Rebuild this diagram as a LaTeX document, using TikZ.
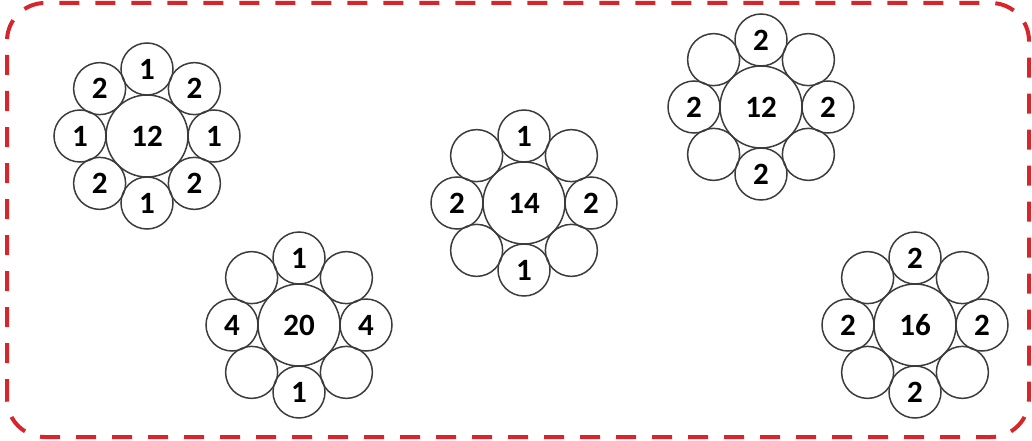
\documentclass[tikz,border=0pt]{standalone}
\usepackage{fontspec}
\setmainfont{Carlito}
\definecolor{borderred}{RGB}{214,38,44}
\definecolor{ringgray}{RGB}{60,60,60}
\tikzset{
 hub/.style={circle,draw=ringgray,line width=0.75pt,minimum size=41pt,inner sep=0pt,font=\bfseries\fontsize{15.5}{16}\selectfont},
 petal/.style={circle,draw=ringgray,line width=0.75pt,minimum size=26pt,inner sep=0pt,font=\bfseries\fontsize{15.5}{16}\selectfont}
}

\begin{document}
\begin{tikzpicture}[x=0.5pt,y=0.5pt]
 \useasboundingbox (0,0) rectangle (1032,440);
 \draw[borderred,line width=2pt,dash pattern=on 10pt off 8pt,rounded corners=19pt]
 (7,3) rectangle (1029,437);
 % left, 12
 \node[hub] (a) at (147,304) {12};
 \path (a.center)
 +(  0:67) node[petal] (a0)   {1}
 +( 45:67) node[petal] (a45)  {2}
 +( 90:67) node[petal] (a90)  {1}
 +(135:67) node[petal] (a135) {2}
 +(180:67) node[petal] (a180) {1}
 +(225:67) node[petal] (a225) {2}
 +(270:67) node[petal] (a270) {1}
 +(315:67) node[petal] (a315) {2}
 ;
 % bottom left, 20
 \node[hub] (b) at (299,115) {20};
 \path (b.center)
 +(  0:67) node[petal] (b0)   {4}
 +( 45:67) node[petal] (b45)  {}
 +( 90:67) node[petal] (b90)  {1}
 +(135:67) node[petal] (b135) {}
 +(180:67) node[petal] (b180) {4}
 +(225:67) node[petal] (b225) {}
 +(270:67) node[petal] (b270) {1}
 +(315:67) node[petal] (b315) {}
 ;
 % middle, 14
 \node[hub] (c) at (524,237) {14};
 \path (c.center)
 +(  0:67) node[petal] (c0)   {2}
 +( 45:67) node[petal] (c45)  {}
 +( 90:67) node[petal] (c90)  {1}
 +(135:67) node[petal] (c135) {}
 +(180:67) node[petal] (c180) {2}
 +(225:67) node[petal] (c225) {}
 +(270:67) node[petal] (c270) {1}
 +(315:67) node[petal] (c315) {}
 ;
 % top right, 12
 \node[hub] (d) at (761,333) {12};
 \path (d.center)
 +(  0:67) node[petal] (d0)   {2}
 +( 45:67) node[petal] (d45)  {}
 +( 90:67) node[petal] (d90)  {2}
 +(135:67) node[petal] (d135) {}
 +(180:67) node[petal] (d180) {2}
 +(225:67) node[petal] (d225) {}
 +(270:67) node[petal] (d270) {2}
 +(315:67) node[petal] (d315) {}
 ;
 % bottom right, 16
 \node[hub] (e) at (915,115) {16};
 \path (e.center)
 +(  0:67) node[petal] (e0)   {2}
 +( 45:67) node[petal] (e45)  {}
 +( 90:67) node[petal] (e90)  {2}
 +(135:67) node[petal] (e135) {}
 +(180:67) node[petal] (e180) {2}
 +(225:67) node[petal] (e225) {}
 +(270:67) node[petal] (e270) {2}
 +(315:67) node[petal] (e315) {}
 ;
\end{tikzpicture}
\end{document}
